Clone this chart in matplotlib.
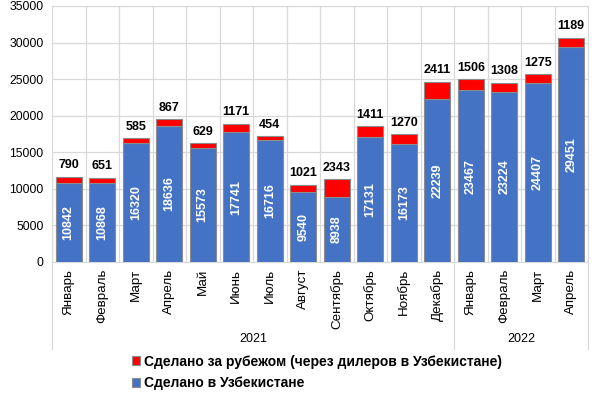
import matplotlib.pyplot as plt
import numpy as np

plt.rcParams['font.family'] = ['Liberation Sans', 'DejaVu Sans']

# Data
months = ['Январь', 'Февраль', 'Март', 'Апрель', 'Май', 'Июнь', 'Июль', 'Август',
          'Сентябрь', 'Октябрь', 'Ноябрь', 'Декабрь',
          'Январь', 'Февраль', 'Март', 'Апрель']
years = ['2021', '2022']
year_counts = [12, 4]
made_uz = [10842, 10868, 16320, 18636, 15573, 17741, 16716, 9540,
           8938, 17131, 16173, 22239, 23467, 23224, 24407, 29451]
made_abroad = [790, 651, 585, 867, 629, 1171, 454, 1021,
               2343, 1411, 1270, 2411, 1506, 1308, 1275, 1189]

blue = '#4472C4'
red = '#FF0000'

fig = plt.figure(figsize=(6, 3.96), dpi=100)
ax = fig.add_axes([52/600, 1-262/396, 536/600, 256/396])

x = np.arange(len(months))
uz = np.array(made_uz)
ab = np.array(made_abroad)
ax.bar(x, uz, width=0.77, color=blue, edgecolor='#8c8c8c', linewidth=0.8,
       label='Сделано в Узбекистане', zorder=3)
ax.bar(x, ab, bottom=uz, width=0.77, color=red, edgecolor='#8c8c8c', linewidth=0.8,
       label='Сделано за рубежом (через дилеров в Узбекистане)', zorder=3)

for i in range(len(x)):
    ax.text(x[i], uz[i] / 2, str(uz[i]), rotation=90, ha='center', va='center',
            color='white', fontsize=9, fontweight='bold', zorder=4)
    ax.annotate(str(ab[i]), (x[i], uz[i] + ab[i]), xytext=(0, 4),
                textcoords='offset points', ha='center', va='bottom',
                fontsize=9, fontweight='bold', color='black', zorder=4)

ax.set_xlim(-0.5, len(months) - 0.5)
ax.set_ylim(0, 35000)
ax.set_yticks(np.arange(0, 35001, 5000))
ax.tick_params(axis='y', length=0, labelsize=8.8, pad=6)
ax.set_xticks(x)
ax.set_xticklabels(months, rotation=90, va='top', ha='center', fontsize=9.6)
ax.tick_params(axis='x', length=0, pad=5)

# grid: horizontal at ticks, vertical at category boundaries
ax.yaxis.grid(True, color='#d9d9d9', linewidth=0.9, zorder=0)
for b in np.arange(-0.5, len(months), 1.0):
    ax.axvline(b, color='#d9d9d9', linewidth=0.9, zorder=0)
for s in ['top', 'right', 'left', 'bottom']:
    ax.spines[s].set_color('#d9d9d9')

# year group labels under the month labels
trans = ax.get_xaxis_transform()
start = -0.5
seps = [start]
for yr, n in zip(years, year_counts):
    ax.text(start + n / 2, -0.30, yr, transform=trans, ha='center', va='center',
            fontsize=9)
    start += n
    seps.append(start)
for s in seps:
    ax.plot([s, s], [0, -0.34], transform=trans, color='#d9d9d9',
            linewidth=0.9, clip_on=False)

handles, labels = ax.get_legend_handles_labels()
fig.legend(handles[::-1], labels[::-1], loc='upper left',
           bbox_to_anchor=(126/600, 1-349/396), frameon=False,
           prop={'size': 10, 'weight': 'bold'}, handlelength=0.6,
           handleheight=0.6, handletextpad=0.3, labelspacing=0.55,
           borderaxespad=0)

fig.savefig('out.png', dpi=100)
